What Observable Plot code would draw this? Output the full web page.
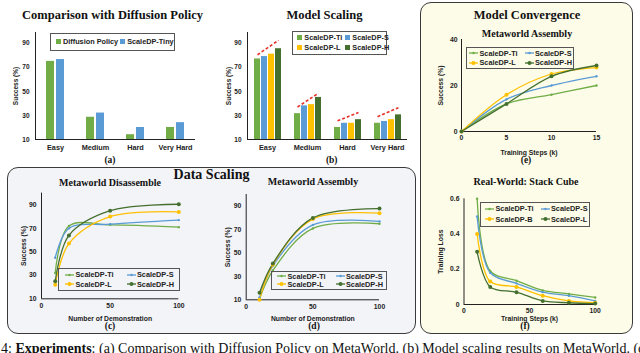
<!DOCTYPE html>
<html><head><meta charset="utf-8">
<script src="https://cdn.jsdelivr.net/npm/d3@7"></script>
<script src="https://cdn.jsdelivr.net/npm/@observablehq/plot@0.6"></script>
<style>
html,body{margin:0;padding:0;background:#fff;}
#root{position:relative;width:640px;height:353px;overflow:hidden;background:#fff;}
.t{position:absolute;transform:translate(-50%,-50%);white-space:nowrap;line-height:1;font-family:'Liberation Serif','Times New Roman',serif;font-weight:bold;color:#111;}
.box{position:absolute;box-sizing:border-box;border:1.3px solid #3a3a3a;border-radius:11px;}
.leg{position:absolute;box-sizing:border-box;border:1px solid #555;display:grid;align-content:space-evenly;font-family:'Liberation Sans',Arial,sans-serif;font-weight:bold;font-size:7.3px;color:#222;}
.item{display:flex;align-items:center;white-space:nowrap;line-height:1;}
.cap{position:absolute;left:1px;top:342px;white-space:nowrap;font-family:'Liberation Serif','Times New Roman',serif;font-size:14px;line-height:14px;color:#111;}
svg{display:block;}
</style></head><body><div id="root"></div>
<script>
// ---------- data ----------
const difficulties = ["Easy", "Medium", "Hard", "Very Hard"];
const compSeries = ["Diffusion Policy", "ScaleDP-Tiny"];
const compDP = [75, 28.5, 14, 20];
const compTiny = [76.5, 32, 20, 24];

const scaleSeries = ["ScaleDP-Ti", "ScaleDP-S", "ScaleDP-L", "ScaleDP-H"];
const scaleTi = [77, 31.5, 20, 23.5];
const scaleS = [79, 38, 23.5, 25];
const scaleL = [81, 39, 23.5, 26.5];
const scaleH = [85.5, 45, 26.5, 30.5];
const trendStart = [80.5, 37, 25.5, 29];
const trendEnd = [92.5, 48.5, 32.5, 36.5];

const demos = [10, 20, 50, 100];
const disTi = [32, 72, 73, 71];
const disS = [45, 70, 73.5, 77];
const disL = [22, 57, 80, 84];
const disH = [25, 64, 85, 90.5];
const asmTi = [11, 35, 71, 75];
const asmS = [12, 39, 74, 77];
const asmL = [10, 40, 79, 84];
const asmH = [16, 41, 80, 88];

const convSteps = [0, 5, 10, 15];
const convTi = [0, 12, 16, 20];
const convS = [0, 14, 20, 24];
const convL = [0, 16, 25, 27.8];
const convH = [0, 12, 24, 28.7];

const lossSeries = ["ScaleDP-Ti", "ScaleDP-S", "ScaleDP-B", "ScaleDP-L"];
const lossSteps = [10, 20, 40, 60, 80, 100];
const lossTi = [0.6, 0.19, 0.135, 0.08, 0.06, 0.04];
const lossS = [0.5, 0.18, 0.12, 0.07, 0.05, 0.02];
const lossB = [0.4, 0.13, 0.1, 0.05, 0.02, 0.01];
const lossL = [0.3, 0.1, 0.07, 0.02, 0.01, 0.005];

const successTicks = [10, 30, 50, 70, 90];

// ---------- styles ----------
const C_LG = "#70ad47", C_BL = "#5b9bd5", C_YE = "#ffc000", C_DG = "#456f2f";
const AX = "#222";
const plotStyle = {fontFamily: "'Liberation Sans', Arial, sans-serif", fontWeight: "bold", fontSize: "7.3px", color: "#222", background: "transparent", overflow: "visible"};

const root = document.getElementById("root");
function put(node, left, top) {
  const d = document.createElement("div");
  d.style.position = "absolute"; d.style.left = left + "px"; d.style.top = top + "px";
  d.appendChild(node); root.appendChild(d);
}
function label(str, x, y, size) {
  const d = document.createElement("div");
  d.className = "t"; d.textContent = str;
  d.style.left = x + "px"; d.style.top = y + "px"; d.style.fontSize = size + "px";
  root.appendChild(d);
}
function box(l, t, r, b, bg) {
  const d = document.createElement("div");
  d.className = "box";
  Object.assign(d.style, {left: l + "px", top: t + "px", width: (r - l) + "px", height: (b - t) + "px", background: bg});
  root.appendChild(d);
}
function legend(names, colors, kind, bigSet, l, t, w, h, cols, padL, gap) {
  const d = document.createElement("div");
  d.className = "leg";
  Object.assign(d.style, {left: l + "px", top: t + "px", width: w + "px", height: h + "px",
    gridTemplateColumns: `repeat(${cols}, max-content)`, columnGap: gap + "px", paddingLeft: padL + "px"});
  names.forEach((n, i) => {
    const it = document.createElement("div"); it.className = "item";
    let sw;
    if (kind === "bar") {
      sw = document.createElement("span");
      Object.assign(sw.style, {display: "inline-block", width: "5px", height: "5px", background: colors[i], marginRight: "2px"});
    } else {
      const ns = "http://www.w3.org/2000/svg";
      sw = document.createElementNS(ns, "svg");
      sw.setAttribute("width", 9); sw.setAttribute("height", 6);
      sw.style.marginRight = "1.5px";
      const ln = document.createElementNS(ns, "line");
      ln.setAttribute("x1", 0); ln.setAttribute("x2", 9); ln.setAttribute("y1", 3); ln.setAttribute("y2", 3);
      ln.setAttribute("stroke", colors[i]); ln.setAttribute("stroke-width", 1.3);
      const c = document.createElementNS(ns, "circle");
      c.setAttribute("cx", 4.5); c.setAttribute("cy", 3); c.setAttribute("r", bigSet.includes(n) ? 2 : 1.2);
      c.setAttribute("fill", colors[i]);
      sw.appendChild(ln); sw.appendChild(c);
    }
    const tx = document.createElement("span"); tx.textContent = n;
    it.appendChild(sw); it.appendChild(tx); d.appendChild(it);
  });
  root.appendChild(d);
}

function barPanel({series, values, colors, trends, left, top, width, height, mL, mR, mT, mB, pi, po, yLO}) {
  const data = [];
  difficulties.forEach((c, i) => series.forEach((s, j) => data.push({cat: c, s, v: values[j][i]})));
  const marks = [
    Plot.barY(data, {fx: "cat", x: "s", y1: 10, y2: "v", fill: "s"}),
    Plot.ruleY([10], {stroke: AX}),
    Plot.frame({anchor: "left", facetAnchor: "left", stroke: AX}),
    Plot.axisY({ticks: successTicks, tickSize: 0, tickPadding: 6, fontSize: 6.5, label: "Success (%)", labelAnchor: "center", labelOffset: yLO, labelArrow: "none"})
  ];
  if (trends) {
    const td = difficulties.map((c, i) => ({cat: c, a: trends[0][i], b: trends[1][i]}));
    marks.push(Plot.link(td, {fx: "cat", x1: () => series[0], x2: () => series[series.length - 1], y1: "a", y2: "b",
      stroke: "#e4322b", strokeWidth: 1.6, strokeDasharray: "3,2"}));
  }
  const svg = Plot.plot({
    width, height, marginLeft: mL, marginRight: mR, marginTop: mT, marginBottom: mB,
    style: plotStyle,
    fx: {domain: difficulties, padding: 0, label: null, tickSize: 0, tickPadding: 5, axis: "bottom"},
    x: {domain: series, axis: null, paddingInner: pi, paddingOuter: po},
    y: {domain: [10, 99]},
    color: {domain: series, range: colors},
    marks
  });
  put(svg, left, top);
}

function linePanel({xs, series, values, colors, big, xDomain, yDomain, xTicks, yTicks, xLabel, yLabel, yFormat,
  left, top, width, height, mL, mR, mT, mB, xPad, yPad, xLO, yLO}) {
  const data = [];
  series.forEach((s, j) => xs.forEach((x, i) => data.push({x, y: values[j][i], s})));
  const svg = Plot.plot({
    width, height, marginLeft: mL, marginRight: mR, marginTop: mT, marginBottom: mB,
    style: plotStyle,
    x: {domain: xDomain}, y: {domain: yDomain},
    color: {domain: series, range: colors},
    marks: [
      Plot.ruleX([xDomain[0]], {stroke: AX}),
      Plot.ruleY([yDomain[0]], {stroke: AX}),
      Plot.axisX({ticks: xTicks, tickSize: 0, tickPadding: xPad, fontSize: 6.8, label: xLabel, labelAnchor: "center", labelOffset: xLO, labelArrow: "none"}),
      Plot.axisY({ticks: yTicks, tickSize: 0, tickPadding: yPad, fontSize: 6.8, tickFormat: yFormat, label: yLabel, labelAnchor: "center", labelOffset: yLO, labelArrow: "none"}),
      Plot.line(data, {x: "x", y: "y", z: "s", stroke: "s", curve: "catmull-rom", strokeWidth: 1.3}),
      Plot.dot(data.filter(d => !big.includes(d.s)), {x: "x", y: "y", fill: "s", r: 1.2}),
      Plot.dot(data.filter(d => big.includes(d.s)), {x: "x", y: "y", fill: "s", r: 2})
    ]
  });
  put(svg, left, top);
}

// ---------- background panels ----------
box(7, 166.5, 416, 333.5, "#f3f4f8");
box(419.5, 1.5, 632.5, 333.5, "#fcfce8");

// ---------- (a) ----------
barPanel({series: compSeries, values: [compDP, compTiny], colors: [C_LG, C_BL],
  left: 0, top: 0, width: 205, height: 170, mL: 35, mR: 10, mT: 32, mB: 31, pi: 0.18, po: 0.91, yLO: 22});
label("Comparison with Diffusion Policy", 112.5, 15, 12.5);
label("(a)", 110, 161, 9.5);
legend(compSeries, [C_LG, C_BL], "bar", [], 50, 33, 125, 18, 2, 5, 2);

// ---------- (b) ----------
barPanel({series: scaleSeries, values: [scaleTi, scaleS, scaleL, scaleH], colors: [C_LG, C_BL, C_YE, C_DG],
  trends: [trendStart, trendEnd],
  left: 205, top: 0, width: 210, height: 170, mL: 41, mR: 7, mT: 32, mB: 31, pi: 0.167, po: 0.9, yLO: 21});
label("Model Scaling", 324.5, 15, 12.5);
label("(b)", 331.7, 161, 9.5);
legend(scaleSeries, [C_LG, C_BL, C_YE, C_DG], "bar", [], 292.3, 30.7, 95, 24, 2, 4, 3);

// ---------- (c) ----------
linePanel({xs: demos, series: scaleSeries, values: [disTi, disS, disL, disH], colors: [C_LG, C_BL, C_YE, C_DG],
  big: ["ScaleDP-L", "ScaleDP-H"], xDomain: [0, 100], yDomain: [10, 100], xTicks: [0, 50, 100], yTicks: successTicks,
  xLabel: "Number of Demonstration", yLabel: "Success (%)",
  left: 0, top: 185, width: 190, height: 148, mL: 41, mR: 11.7, mT: 7.6, mB: 34.7, xPad: 4, yPad: 5, xLO: 22, yLO: 20.5});
label("Data Scaling", 211.5, 175, 14);
label("Metaworld Disassemble", 110, 183, 10);
label("(c)", 110, 326.7, 9.5);
legend(scaleSeries, [C_LG, C_BL, C_YE, C_DG], "line", ["ScaleDP-L", "ScaleDP-H"], 58, 268, 122, 23, 2, 6, 13);

// ---------- (d) ----------
linePanel({xs: demos, series: scaleSeries, values: [asmTi, asmS, asmL, asmH], colors: [C_LG, C_BL, C_YE, C_DG],
  big: ["ScaleDP-L", "ScaleDP-H"], xDomain: [0, 100], yDomain: [10, 100], xTicks: [0, 50, 100], yTicks: successTicks,
  xLabel: "Number of Demonstration", yLabel: "Success (%)",
  left: 200, top: 185, width: 200, height: 148, mL: 45.7, mR: 21, mT: 9, mB: 33.7, xPad: 4, yPad: 5, xLO: 21.5, yLO: 21});
label("Metaworld Assembly", 313, 181.7, 10);
label("(d)", 314, 326.7, 9.5);
legend(scaleSeries, [C_LG, C_BL, C_YE, C_DG], "line", ["ScaleDP-L", "ScaleDP-H"], 271, 270.7, 116, 19.3, 2, 5, 10);

// ---------- (e) ----------
linePanel({xs: convSteps, series: scaleSeries, values: [convTi, convS, convL, convH], colors: [C_LG, C_BL, C_YE, C_DG],
  big: ["ScaleDP-L", "ScaleDP-H"], xDomain: [0, 15], yDomain: [0, 40], xTicks: [0, 5, 10, 15], yTicks: [0, 20, 40],
  xLabel: "Training Steps (k)", yLabel: "Success (%)",
  left: 420, top: 30, width: 200, height: 140, mL: 41, mR: 24, mT: 9, mB: 39, xPad: 3.5, yPad: 4, xLO: 23, yLO: 23});
label("Model Convergence", 527, 15, 12.5);
label("Metaworld Assembly", 527, 34, 10);
label("(e)", 526, 160.7, 9.5);
legend(scaleSeries, [C_LG, C_BL, C_YE, C_DG], "line", ["ScaleDP-L", "ScaleDP-H"], 466, 47, 108, 22, 2, 2, 7);

// ---------- (f) ----------
linePanel({xs: lossSteps, series: lossSeries, values: [lossTi, lossS, lossB, lossL], colors: [C_LG, C_BL, C_YE, C_DG],
  big: ["ScaleDP-B", "ScaleDP-L"], xDomain: [0, 100], yDomain: [0, 0.6], xTicks: [0, 50, 100], yTicks: [0, 0.2, 0.4, 0.6],
  yFormat: d => d === 0 ? "0" : d3.format(".1f")(d),
  xLabel: "Training Steps (k)", yLabel: "Training Loss",
  left: 420, top: 190, width: 200, height: 143, mL: 43.5, mR: 25.3, mT: 8.3, mB: 29, xPad: 4, yPad: 4.5, xLO: 16.5, yLO: 26});
label("Real-World: Stack Cube", 526, 181.7, 10);
label("(f)", 525, 326.7, 9.5);
legend(lossSeries, [C_LG, C_BL, C_YE, C_DG], "line", ["ScaleDP-B", "ScaleDP-L"], 480, 201.7, 110, 25, 2, 4, 7);

// ---------- caption ----------
const cap = document.createElement("div");
cap.className = "cap";
cap.innerHTML = "4: <b>Experiments</b>: (a) Comparison with Diffusion Policy on MetaWorld. (b) Model scaling results on MetaWorld. (c)";
root.appendChild(cap);
</script></body></html>
